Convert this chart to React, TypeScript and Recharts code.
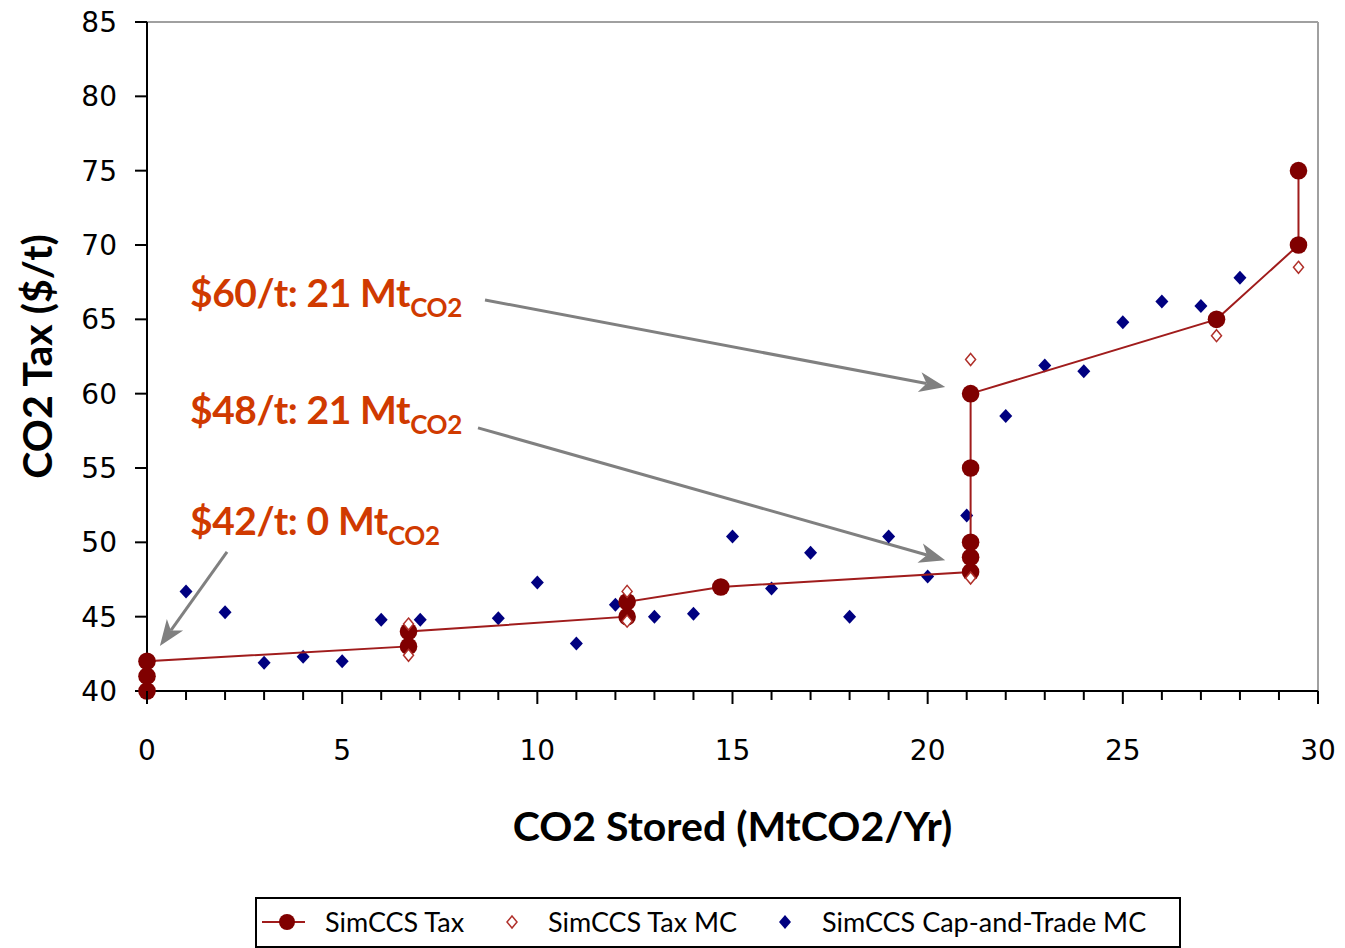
import { ScatterChart, Scatter, XAxis, YAxis, ReferenceLine, ReferenceDot, Legend, Label } from "recharts";

// SimCCS Tax (connected)
const taxStored = [0, 0, 0, 6.7, 6.7, 12.3, 12.3, 14.7, 21.1, 21.1, 21.1, 21.1, 21.1, 27.4, 29.5, 29.5];
const taxPrice = [40, 41, 42, 43, 44, 45, 46, 47, 48, 49, 50, 55, 60, 65, 70, 75];

// SimCCS Tax MC (hollow markers)
const taxMcStored = [6.7, 6.7, 12.3, 12.3, 21.1, 21.1, 27.4, 29.5];
const taxMcPrice = [42.4, 44.5, 44.7, 46.7, 47.6, 62.3, 63.9, 68.5];

// SimCCS Cap-and-Trade MC
const capStored = [1, 2, 3, 4, 5, 6, 7, 9, 10, 11, 12, 13, 14, 15, 16, 17, 18, 19, 20, 21, 22, 23, 24, 25, 26, 27, 28];
const capPrice = [46.7, 45.3, 41.9, 42.3, 42.0, 44.8, 44.8, 44.9, 47.3, 43.2, 45.8, 45.0, 45.2, 50.4, 46.9, 49.3, 45.0, 50.4, 47.7, 51.8, 58.5, 61.9, 61.5, 64.8, 66.2, 65.9, 67.8];

const xTicks = [0, 1, 2, 3, 4, 5, 6, 7, 8, 9, 10, 11, 12, 13, 14, 15, 16, 17, 18, 19, 20, 21, 22, 23, 24, 25, 26, 27, 28, 29, 30];
const yTicks = [40, 45, 50, 55, 60, 65, 70, 75, 80, 85];

// callouts
const noteText = ["$60/t: 21 Mt", "$48/t: 21 Mt", "$42/t: 0 Mt"];
const noteX = [1.1, 1.1, 1.1];
const noteY = [65.83, 57.96, 50.49];
const arrowTailX = [8.66, 8.48, 2.05];
const arrowTailY = [66.3, 57.7, 49.35];
const arrowHeadX = [20.45, 20.45, 0.33];
const arrowHeadY = [60.45, 48.8, 43.03];

const taxData = taxStored.map((x, i) => ({ x, y: taxPrice[i] }));
const taxMcData = taxMcStored.map((x, i) => ({ x, y: taxMcPrice[i] }));
const capData = capStored.map((x, i) => ({ x, y: capPrice[i] }));

const RED = "#800000";
const LINE_RED = "#A01C1C";
const HOLLOW = "#B0302A";
const NAVY = "#000080";
const NOTE = "#D03A00";
const GREY = "#808080";

const RedDot = (p: any) => <circle cx={p.cx} cy={p.cy} r={8.8} fill={RED} />;
const HollowMark = (p: any) => (
  <polygon
    points={`${p.cx},${p.cy - 6} ${p.cx + 5},${p.cy} ${p.cx},${p.cy + 6} ${p.cx - 5},${p.cy}`}
    fill="#fff"
    stroke={HOLLOW}
    strokeWidth={1.5}
  />
);
const BlueDiamond = (p: any) => (
  <polygon
    points={`${p.cx},${p.cy - 7} ${p.cx + 6.5},${p.cy} ${p.cx},${p.cy + 7} ${p.cx - 6.5},${p.cy}`}
    fill={NAVY}
  />
);

function Arrow(p: any) {
  const { x1, y1, x2, y2 } = p;
  const dx = x2 - x1;
  const dy = y2 - y1;
  const len = Math.hypot(dx, dy) || 1;
  const ux = dx / len;
  const uy = dy / len;
  const hl = 26;
  const hw = 10;
  const bx = x2 - ux * hl;
  const by = y2 - uy * hl;
  const nx = x2 - ux * (hl - 7);
  const ny = y2 - uy * (hl - 7);
  return (
    <g>
      <line x1={x1} y1={y1} x2={nx} y2={ny} stroke={GREY} strokeWidth={3} />
      <polygon
        points={`${x2},${y2} ${bx - uy * hw},${by + ux * hw} ${nx},${ny} ${bx + uy * hw},${by - ux * hw}`}
        fill={GREY}
      />
    </g>
  );
}

function XTick(p: any) {
  const v = p.payload.value;
  const major = v % 5 === 0;
  return (
    <g>
      <line x1={p.x} x2={p.x} y1={p.y} y2={p.y + (major ? 13 : 9)} stroke="#000" strokeWidth={2} />
      {major && (
        <text x={p.x} y={p.y + 69} textAnchor="middle" fontFamily="DejaVu Sans" fontSize={28} fill="#000">
          {v}
        </text>
      )}
    </g>
  );
}

function LegendBox() {
  const font = { fontFamily: "Lato", fontSize: 27, fill: "#000" };
  return (
    <svg width={926} height={51} style={{ display: "block" }}>
      <rect x={1} y={1} width={924} height={49} fill="#fff" stroke="#000" strokeWidth={2} />
      <line x1={7} x2={50} y1={25} y2={25} stroke={LINE_RED} strokeWidth={2} />
      <circle cx={32} cy={25} r={8} fill={RED} />
      <text x={70} y={35} {...font}>SimCCS Tax</text>
      <polygon points="257,19 262,25 257,31 252,25" fill="#fff" stroke={HOLLOW} strokeWidth={1.5} />
      <text x={293} y={35} {...font}>SimCCS Tax MC</text>
      <polygon points="530,18 536,25 530,32 524,25" fill={NAVY} />
      <text x={567} y={35} {...font}>SimCCS Cap-and-Trade MC</text>
    </svg>
  );
}

export default function App() {
  return (
    <div style={{ position: "absolute", left: 0, top: 0 }}>
      <ScatterChart width={1345} height={948} margin={{ top: 22, right: 27, bottom: 0, left: 8 }}>
        <XAxis
          type="number"
          dataKey="x"
          domain={[0, 30]}
          ticks={xTicks}
          interval={0}
          height={257}
          tickSize={0}
          tickMargin={0}
          tickLine={false}
          tick={<XTick />}
          axisLine={{ stroke: "#000", strokeWidth: 2 }}
        >
          <Label
            value="CO2 Stored (MtCO2/Yr)"
            position="insideTop"
            offset={121}
            fontFamily="Lato"
            fontWeight="bold"
            fontSize={41}
            fill="#000"
          />
        </XAxis>
        <YAxis
          type="number"
          dataKey="y"
          domain={[40, 85]}
          ticks={yTicks}
          interval={0}
          width={139}
          tickSize={12}
          tickMargin={18}
          tick={{ fontFamily: "DejaVu Sans", fontSize: 28, fill: "#000" }}
          tickLine={{ stroke: "#000", strokeWidth: 2 }}
          axisLine={{ stroke: "#000", strokeWidth: 2 }}
        >
          <Label
            value="CO2 Tax ($/t)"
            angle={-90}
            position="insideLeft"
            offset={29}
            fontFamily="Lato"
            fontWeight="bold"
            fontSize={41}
            fill="#000"
            style={{ textAnchor: "middle" }}
          />
        </YAxis>
        <ReferenceLine y={85} stroke="#A0A0A0" strokeWidth={2} />
        <ReferenceLine x={30} stroke="#A0A0A0" strokeWidth={2} />
        <Scatter
          name="SimCCS Cap-and-Trade MC"
          data={capData}
          shape={BlueDiamond}
          isAnimationActive={false}
        />
        <Scatter
          name="SimCCS Tax"
          data={taxData}
          line={{ stroke: LINE_RED, strokeWidth: 2 }}
          lineType="joint"
          shape={RedDot}
          isAnimationActive={false}
        />
        <Scatter name="SimCCS Tax MC" data={taxMcData} shape={HollowMark} isAnimationActive={false} />
        {noteText.map((t, i) => (
          <ReferenceLine
            key={`a${i}`}
            segment={[
              { x: arrowTailX[i], y: arrowTailY[i] },
              { x: arrowHeadX[i], y: arrowHeadY[i] },
            ]}
            ifOverflow="visible"
            shape={Arrow}
          />
        ))}
        {noteText.map((t, i) => (
          <ReferenceDot
            key={`n${i}`}
            x={noteX[i]}
            y={noteY[i]}
            ifOverflow="visible"
            shape={(p: any) => (
              <text
                x={p.cx}
                y={p.cy}
                fontFamily="Lato"
                fontWeight="bold"
                fontSize={39}
                letterSpacing={-0.4}
                fill={NOTE}
              >
                {t}
                <tspan dy={10} fontSize={26}>
                  CO2
                </tspan>
              </text>
            )}
          />
        ))}
        <Legend
          layout="horizontal"
          verticalAlign="middle"
          align="center"
          wrapperStyle={{ left: 255, top: 897, width: 926, height: 51 }}
          content={() => <LegendBox />}
        />
      </ScatterChart>
    </div>
  );
}
